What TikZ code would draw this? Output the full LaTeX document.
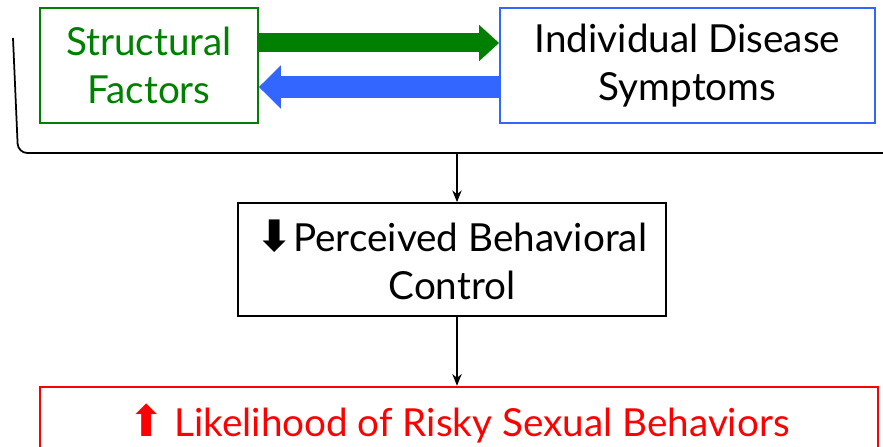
\documentclass[tikz,border=0pt]{standalone}
\usepackage{fontspec}
\setmainfont{Lato}
\newfontfamily\symfont{DejaVu Sans}
\usetikzlibrary{arrows.meta}
\definecolor{sfgreen}{RGB}{0,128,0}
\definecolor{idsblue}{RGB}{51,102,255}
\definecolor{riskred}{RGB}{255,0,0}

\begin{document}
\begin{tikzpicture}[x=0.03cm,y=0.03cm,font=\fontsize{33}{41}\selectfont]
\tikzset{box/.style={draw,line width=1.5pt,align=center,inner sep=0pt}}
\tikzset{thin arrow/.style={-{Stealth[length=10pt,width=8pt]},line width=1.3pt}}
\useasboundingbox (0,0) rectangle (883,-447);
\node[box,sfgreen,text=sfgreen,minimum width=6.54cm,minimum height=3.45cm] (sf) at (149,-65.5) {Structural\\Factors};
\node[box,idsblue,text=black,minimum width=11.25cm,minimum height=3.45cm] (ids) at (687.5,-65.5) {Individual Disease\\Symptoms};
\node[box,minimum width=12.84cm,minimum height=3.39cm] (pbc) at (452,-259.5) {{\symfont\bfseries\fontsize{37}{41}\selectfont ⬇}Perceived Behavioral\\Control};
\node[box,riskred,text=riskred,minimum width=25.14cm,minimum height=2.6cm] (risk) at (459,-430) {};
\node[text=riskred,anchor=base] (risktext) at (459,-436) {{\symfont\fontsize{37}{41}\selectfont ⬆} Likelihood of Risky Sexual Behaviors};
% bracket round the top row
\draw[line width=1.5pt,rounded corners=8pt] (13,-38) -- (18,-153) -- (883,-153);
\coordinate (br) at (457,-153);
\draw[sfgreen,line width=0.57cm,-{Triangle[length=0.6cm,width=1.05cm]}] ([yshift=0.675cm]sf.east) -- ([yshift=0.675cm]ids.west);
\draw[idsblue,line width=0.66cm,-{Triangle[length=0.66cm,width=1.26cm]}] ([yshift=-0.645cm]ids.west) -- ([yshift=-0.645cm]sf.east);
\path[thin arrow] (br) edge (br |- pbc.north);
\path[thin arrow] (br |- pbc.south) edge (br |- risk.north);
\end{tikzpicture}
\end{document}
